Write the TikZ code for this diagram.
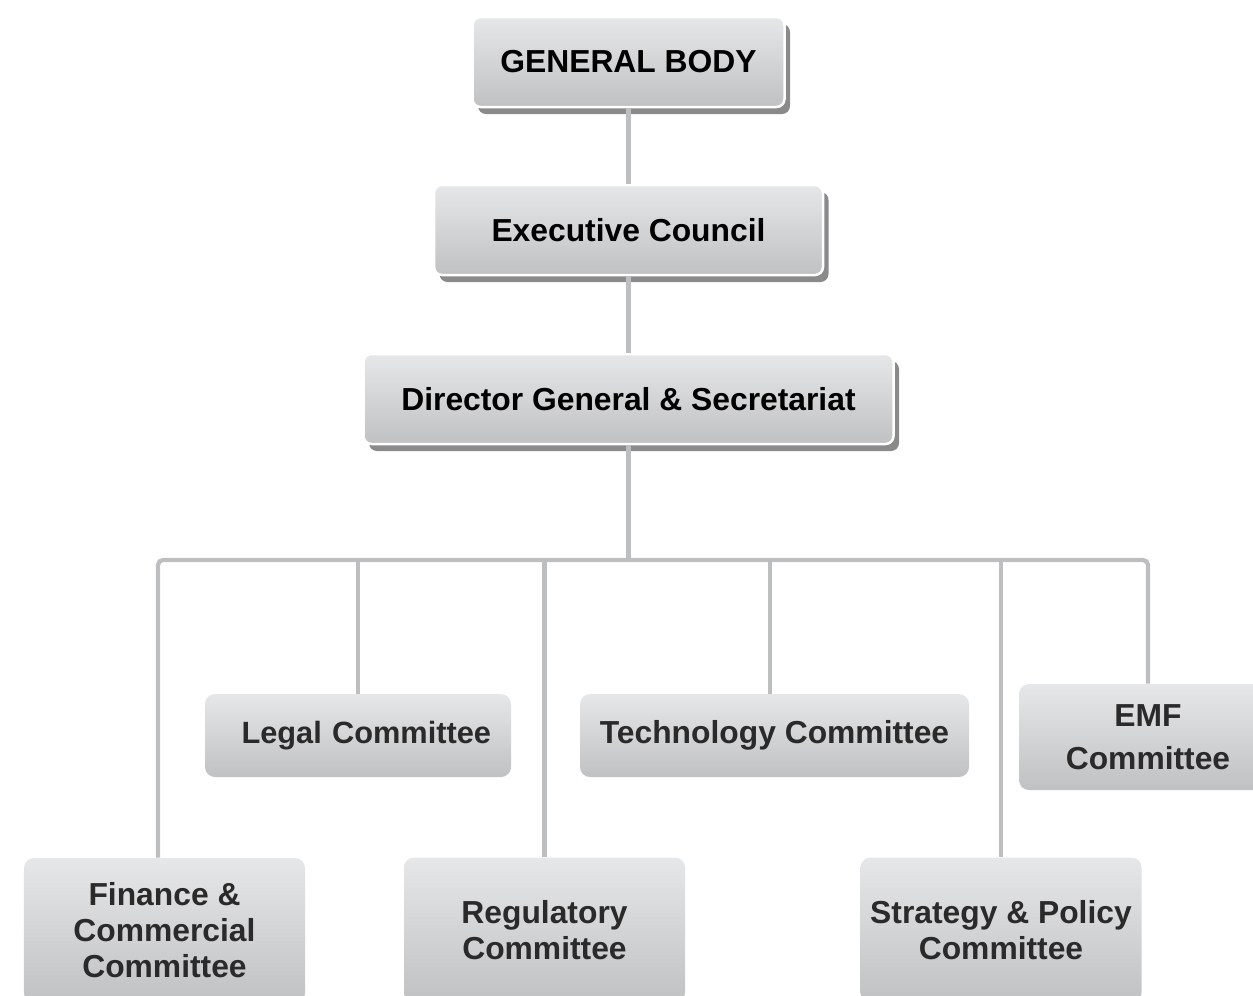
\documentclass[tikz,border=0pt]{standalone}
\usepackage{fontspec}
\setmainfont{Liberation Sans}
\usetikzlibrary{shadows}
\definecolor{boxtop}{HTML}{E6E7E8}
\definecolor{boxbot}{HTML}{C0C1C3}
\definecolor{linegray}{HTML}{BCBEC0}
\definecolor{txtgray}{HTML}{2B2A2B}
\tikzstyle{every node}=[font=\bfseries\fontsize{18.1}{20.5}\selectfont]
\tikzstyle{unit}=[top color=boxtop, bottom color=boxbot, align=center, inner sep=0pt, text=txtgray]
\tikzstyle{head}=[unit, rounded corners=1.6mm, draw=white, line width=0.5mm, text=black, minimum height=18mm,
  drop shadow={shadow xshift=1.1mm, shadow yshift=-1.4mm, fill=black!65, opacity=0.7}]
\tikzstyle{committee}=[unit, rounded corners=2mm]
\tikzstyle{conn}=[line width=0.85mm, draw=linegray]

\begin{document}
\begin{tikzpicture}[x=0.2mm,y=-0.2mm]
  \useasboundingbox (0,0) rectangle (1253,995);
  \clip (0,0) rectangle (1253,995);
  % top of the chart
  \node[head, minimum width=62.4mm] (gb) at (628.5,62) {GENERAL BODY};
  \node[head, minimum width=77.8mm] (ec) at (628.5,230) {Executive Council};
  \node[head, minimum width=106mm] (dg) at (628.5,399) {Director General \& Secretariat};
  % committees
  \node[committee, minimum height=16.6mm, text width=53.2mm, inner xsep=4mm, align=right,
    font=\bfseries\fontsize{17.5}{20.5}\selectfont] (leg) at (358,735.5) {Legal Committee};
  \node[committee, minimum width=77.8mm, minimum height=16.6mm] (tech) at (774.5,735.5) {Technology Committee};
  \node[committee, minimum width=51.6mm, minimum height=21.2mm] (emf) at (1148,737) {EMF\\[1.4mm]Committee};
  \node[committee, minimum width=56.2mm, minimum height=29mm] (fin) at (164.5,930.5) {Finance \&\\Commercial\\Committee};
  \node[committee, minimum width=56.2mm, minimum height=29mm] (reg) at (544.5,930) {Regulatory\\Committee};
  \node[committee, minimum width=56.2mm, minimum height=29mm] (strat) at (1001,930) {Strategy \& Policy\\Committee};
  % lines
  \coordinate (bus) at (628.5,560);
  \coordinate (busl) at (158,560);
  \coordinate (busr) at (1148,560);
  \coordinate (techtop) at (770,560);
  \draw[conn] (gb) -- (ec);
  \draw[conn] (ec) -- (dg);
  \draw[conn] (dg) -- (bus);
  \draw[conn, rounded corners=1mm] (fin.north -| busl) |- (busr) -- (emf.north);
  \draw[conn] (leg.north) -- (leg.north |- bus);
  \draw[conn] (reg.north) -- (reg.north |- bus);
  \draw[conn] (techtop) -- (techtop |- tech.north);
  \draw[conn] (strat.north) -- (strat.north |- bus);
\end{tikzpicture}
\end{document}
